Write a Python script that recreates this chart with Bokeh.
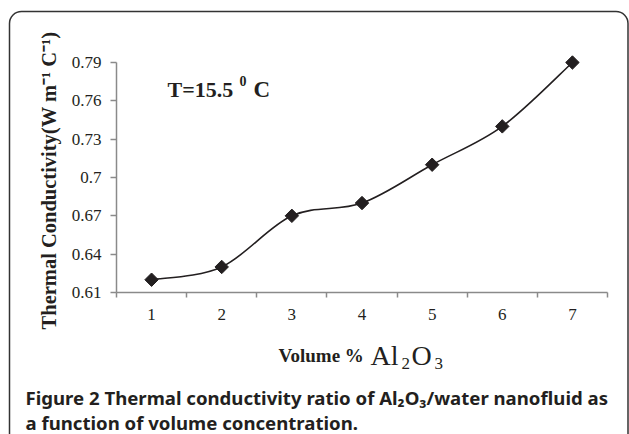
import math
from bokeh.plotting import figure
from bokeh.models import FixedTicker, Label, BoxAnnotation, Range1d
from bokeh.embed import file_html
from bokeh.resources import INLINE

# ---- data ----
volume = [1, 2, 3, 4, 5, 6, 7]
conductivity = [0.62, 0.63, 0.67, 0.68, 0.71, 0.74, 0.79]
x_tick_labels = ["1", "2", "3", "4", "5", "6", "7"]
y_ticks = [0.61, 0.64, 0.67, 0.70, 0.73, 0.76, 0.79]
y_tick_labels = ["0.61", "0.64", "0.67", "0.7", "0.73", "0.76", "0.79"]

INK = "#231f20"
AXIS = "#8a8a8a"
W, H = 629, 434

# plot area in canvas pixels (left, right, top, bottom)
FL, FR, FT, FB = 116, 607, 62, 292
x_lo, x_hi = volume[0] - 0.5, volume[-1] + 0.5
y_lo, y_hi = y_ticks[0], y_ticks[-1]
kx = (FR - FL) / (x_hi - x_lo)
ky = (FB - FT) / (y_hi - y_lo)

p = figure(width=W, height=H, output_backend="svg", toolbar_location=None,
           x_range=Range1d(x_lo - FL / kx, x_hi + (W - FR) / kx),
           y_range=Range1d(y_lo - (H - FB) / ky, y_hi + FT / ky),
           min_border=0)
p.outline_line_color = None
p.xgrid.grid_line_color = None
p.ygrid.grid_line_color = None
p.background_fill_color = "white"
p.border_fill_color = "white"

# x axis: labels at category centres, ticks at category boundaries
xa = p.xaxis[0]
xa.fixed_location = y_lo
xa.bounds = (x_lo, x_hi)
xa.ticker = FixedTicker(ticks=volume,
                        minor_ticks=[v - 0.5 for v in volume] + [volume[-1] + 0.5])
xa.major_label_overrides = {v: s for v, s in zip(volume, x_tick_labels)}
xa.major_tick_out = 0
xa.major_tick_in = 0
xa.minor_tick_out = 5
xa.minor_tick_in = 0
xa.minor_tick_line_color = AXIS
xa.minor_tick_line_width = 1.5
xa.axis_line_color = AXIS
xa.axis_line_width = 1.5
xa.major_label_text_font = "Liberation Serif"
xa.major_label_text_font_size = "17px"
xa.major_label_text_color = INK
xa.major_label_standoff = 11

ya = p.yaxis[0]
ya.fixed_location = x_lo
ya.bounds = (y_lo, y_hi)
ya.ticker = FixedTicker(ticks=y_ticks, minor_ticks=[])
ya.major_label_overrides = {v: s for v, s in zip(y_ticks, y_tick_labels)}
ya.major_tick_out = 6
ya.major_tick_in = 0
ya.major_tick_line_color = AXIS
ya.major_tick_line_width = 1.5
ya.axis_line_color = AXIS
ya.axis_line_width = 1.5
ya.major_label_text_font = "Liberation Serif"
ya.major_label_text_font_size = "17px"
ya.major_label_text_color = INK
ya.major_label_standoff = 9

# smoothed line (Catmull-Rom / Excel-style bezier through the data points)
n = len(volume)
x0s, y0s, x1s, y1s, cx0s, cy0s, cx1s, cy1s = [], [], [], [], [], [], [], []
for i in range(n - 1):
    xa_, ya_ = volume[max(i - 1, 0)], conductivity[max(i - 1, 0)]
    xb, yb = volume[i], conductivity[i]
    xc, yc = volume[i + 1], conductivity[i + 1]
    xd, yd = volume[min(i + 2, n - 1)], conductivity[min(i + 2, n - 1)]
    x0s.append(xb); y0s.append(yb); x1s.append(xc); y1s.append(yc)
    cx0s.append(xb + (xc - xa_) / 6); cy0s.append(yb + (yc - ya_) / 6)
    cx1s.append(xc - (xd - xb) / 6); cy1s.append(yc - (yd - yb) / 6)
p.bezier(x0=x0s, y0=y0s, x1=x1s, y1=y1s, cx0=cx0s, cy0=cy0s, cx1=cx1s, cy1=cy1s,
         line_color=INK, line_width=1.6)
p.scatter(volume, conductivity, marker="square", angle=math.pi / 4, size=9.5,
          fill_color=INK, line_color=INK)

# helpers: canvas coords (top-left origin) -> screen units (bottom-left origin)
def X(px):
    return px

def Y(py):
    return H - py

def lab(text, px, py, size, font="Liberation Serif", style="normal",
        align="left", baseline="alphabetic", angle=0.0):
    p.add_layout(Label(x=X(px), y=Y(py), x_units="screen", y_units="screen",
                       text=text, text_font=font, text_font_size=f"{size}px",
                       text_font_style=style, text_color=INK, text_align=align,
                       text_baseline=baseline, angle=angle))

# temperature note
lab("T=15.5", 167, 89, 22, style="bold")
lab("0", 239, 80, 14, style="bold")
lab("C", 253, 89, 23, style="bold")

# y axis title
lab("Thermal Conductivity(W m\u207b\u00b9 C\u207b\u00b9)", 48, 180, 20.5, style="bold",
    align="center", baseline="alphabetic", angle=math.pi / 2)

# x axis title
lab("Volume %", 278, 355, 19, style="bold")
lab("Al", 370, 355, 28)
lab("2", 401, 363, 17)
lab("O", 411, 355, 28)
lab("3", 434, 363, 17)

# caption
lab("Figure 2 Thermal conductivity ratio of Al\u2082O\u2083/water nanofluid as", 25, 397, 18.6,
    font="Noto Sans", style="bold")
lab("a function of volume concentration.", 25, 422, 18.6, font="Noto Sans", style="bold")

# rounded border
p.add_layout(BoxAnnotation(left=9, right=627.5, top=Y(11), bottom=-30,
                           left_units="screen", right_units="screen",
                           top_units="screen", bottom_units="screen",
                           fill_alpha=0, line_color="#333333", line_alpha=1.0,
                           line_width=1.5, border_radius=12))

open("out.html", "w").write(file_html(p, INLINE))
